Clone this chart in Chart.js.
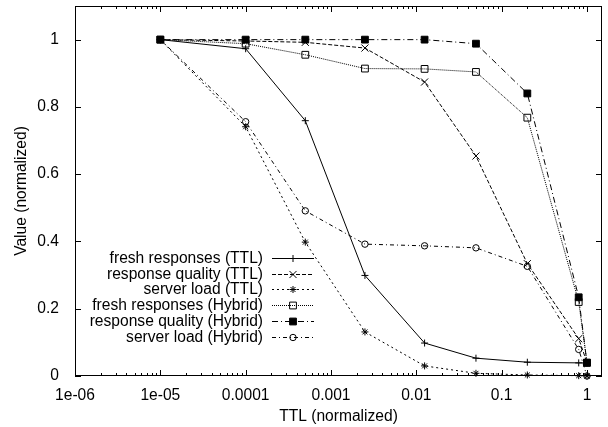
<!DOCTYPE html>
<html>
<head>
<meta charset="utf-8">
<title>TTL vs value</title>
<script src="https://cdn.jsdelivr.net/npm/chart.js@4.4.0/dist/chart.umd.min.js"></script>
<style>
  html, body { margin: 0; padding: 0; background: #fff; }
  #wrap { width: 608px; height: 427px; }
</style>
</head>
<body>
<div id="wrap"><canvas id="chart" width="608" height="427"></canvas></div>
<script>
// TTL settings (normalized) where the runs were measured
const ttlValues = [1e-5, 1e-4, 5e-4, 2.5e-3, 1.25e-2, 5e-2, 0.2, 0.8, 1];

const freshTTL      = [1.0, 0.973, 0.759, 0.299, 0.098, 0.053, 0.041, 0.039, 0.039];
const qualityTTL    = [1.0, 0.996, 0.992, 0.975, 0.874, 0.654, 0.334, 0.111, 0.040];
const loadTTL       = [1.0, 0.741, 0.398, 0.131, 0.030, 0.008, 0.003, 0.001, 0.0];
const freshHybrid   = [1.0, 0.988, 0.955, 0.914, 0.913, 0.904, 0.768, 0.220, 0.040];
const qualityHybrid = [1.0, 1.0, 1.0, 1.0, 1.0, 0.988, 0.840, 0.234, 0.039];
const loadHybrid    = [1.0, 0.756, 0.491, 0.392, 0.387, 0.381, 0.326, 0.079, 0.0];

const seriesNames = [
    'fresh responses (TTL)',
    'response quality (TTL)',
    'server load (TTL)',
    'fresh responses (Hybrid)',
    'response quality (Hybrid)',
    'server load (Hybrid)'
];

const xTickValues = [1e-6, 1e-5, 1e-4, 1e-3, 1e-2, 1e-1, 1];
const xTickLabels = ['1e-06', '1e-05', '0.0001', '0.001', '0.01', '0.1', '1'];
const yTickValues = [0, 0.2, 0.4, 0.6, 0.8, 1];
const yTickLabels = ['0', '0.2', '0.4', '0.6', '0.8', '1'];

const FONT = { family: "'Liberation Sans', Arial, sans-serif", size: 15.6 };

// line dash + marker per series (gnuplot-ish look)
const styles = [
    { dash: [],           point: 'cross',    radius: 3.5, fill: 'rgba(0,0,0,0)' },
    { dash: [4, 2],       point: 'crossRot', radius: 5,   fill: 'rgba(0,0,0,0)' },
    { dash: [2, 3],       point: 'star',     radius: 3.5, fill: 'rgba(0,0,0,0)' },
    { dash: [1, 1],       point: 'rect',     radius: 4.8, fill: 'rgba(0,0,0,0)' },
    { dash: [6, 3, 1, 3], point: 'rect',     radius: 4.8, fill: '#000' },
    { dash: [4, 3, 1, 3], point: 'circle',   radius: 3.2, fill: 'rgba(0,0,0,0)' }
];

function toPoints(values) {
    return values.map((v, i) => ({ x: ttlValues[i], y: v }));
}

const allSeries = [freshTTL, qualityTTL, loadTTL, freshHybrid, qualityHybrid, loadHybrid];

const datasets = allSeries.map((vals, i) => ({
    label: seriesNames[i],
    data: toPoints(vals),
    borderColor: '#000',
    borderWidth: 1,
    borderDash: styles[i].dash,
    pointStyle: styles[i].point,
    pointRadius: styles[i].radius,
    pointBorderColor: '#000',
    pointBackgroundColor: styles[i].fill,
    pointBorderWidth: 1,
    tension: 0,
    fill: false,
    clip: false,
    order: allSeries.length - i   // later series on top, like gnuplot
}));

// box, inward ticks (mirrored) and the key, drawn the gnuplot way
const gnuplotFrame = {
    id: 'gnuplotFrame',
    beforeDatasetsDraw(chart) {
        const { ctx, chartArea: a, scales } = chart;
        ctx.save();
        ctx.strokeStyle = '#000';
        ctx.lineWidth = 1;
        ctx.setLineDash([]);
        ctx.strokeRect(Math.round(a.left) + 0.5, Math.round(a.top) + 0.5,
            Math.round(a.right - a.left) - 1, Math.round(a.bottom - a.top) - 1);

        ctx.beginPath();
        // x ticks: major at decades, minor at 2..9
        for (let e = -6; e <= 0; e++) {
            for (let m = 1; m <= 9; m++) {
                const v = m * Math.pow(10, e);
                if (v > scales.x.max) continue;
                const px = Math.round(scales.x.getPixelForValue(v)) + 0.5;
                const len = m === 1 ? 6 : 3;
                ctx.moveTo(px, a.bottom); ctx.lineTo(px, a.bottom - len);
                ctx.moveTo(px, a.top); ctx.lineTo(px, a.top + len);
            }
        }
        yTickValues.forEach(v => {
            const py = Math.round(scales.y.getPixelForValue(v)) + 0.5;
            ctx.moveTo(a.left, py); ctx.lineTo(a.left + 6, py);
            ctx.moveTo(a.right, py); ctx.lineTo(a.right - 6, py);
        });
        ctx.stroke();
        ctx.restore();
    },
    afterDatasetsDraw(chart) {
        const { ctx } = chart;
        const textRight = 263, lineStart = 272, lineEnd = 314, markX = 293;
        const rowTop = 258, rowStep = 15.7;
        ctx.save();
        ctx.font = FONT.size + 'px ' + FONT.family;
        ctx.textAlign = 'right';
        ctx.textBaseline = 'middle';
        chart.data.datasets.forEach((ds, i) => {
            const y = Math.round(rowTop + i * rowStep) + 0.5;
            ctx.fillStyle = '#000';
            ctx.fillText(ds.label, textRight, y);
            ctx.strokeStyle = ds.borderColor;
            ctx.lineWidth = ds.borderWidth;
            ctx.setLineDash(ds.borderDash);
            ctx.beginPath();
            ctx.moveTo(lineStart, y);
            ctx.lineTo(lineEnd, y);
            ctx.stroke();
            ctx.setLineDash([]);
            ctx.fillStyle = ds.pointBackgroundColor;
            ctx.strokeStyle = ds.pointBorderColor;
            ctx.lineWidth = ds.pointBorderWidth;
            Chart.helpers.drawPoint(ctx, {
                pointStyle: ds.pointStyle,
                radius: ds.pointRadius,
                rotation: 0,
                borderWidth: ds.pointBorderWidth
            }, markX, y);
        });
        ctx.restore();
    }
};

function noEdgePadding(s) {
    s.paddingTop = 0;
    s.paddingBottom = 0;
    s.paddingLeft = 0;
    s.paddingRight = 0;
}

new Chart(document.getElementById('chart'), {
    type: 'line',
    data: { datasets: datasets },
    options: {
        responsive: false,
        animation: false,
        devicePixelRatio: 1,
        layout: { padding: { top: 5, right: 6, left: 0, bottom: 0 } },
        plugins: {
            legend: { display: false },
            tooltip: { enabled: false }
        },
        scales: {
            x: {
                type: 'logarithmic',
                min: 1e-6,
                max: 1.5,
                afterBuildTicks: s => { s.ticks = xTickValues.map(v => ({ value: v })); },
                afterFit: s => { s.height = 51; noEdgePadding(s); },
                ticks: {
                    callback: (v, i) => xTickLabels[i],
                    autoSkip: false,
                    maxRotation: 0,
                    padding: 2,
                    color: '#000',
                    font: FONT
                },
                grid: { display: false },
                border: { display: false },
                title: {
                    display: true,
                    text: 'TTL (normalized)',
                    color: '#000',
                    font: FONT,
                    padding: { top: 0, bottom: 1 }
                }
            },
            y: {
                type: 'linear',
                min: 0,
                max: 1.1,
                afterBuildTicks: s => { s.ticks = yTickValues.map(v => ({ value: v })); },
                afterFit: s => { s.width = 75; noEdgePadding(s); },
                ticks: {
                    callback: (v, i) => yTickLabels[i],
                    padding: 8,
                    color: '#000',
                    font: FONT
                },
                grid: { display: false },
                border: { display: false },
                title: {
                    display: true,
                    text: 'Value (normalized)',
                    color: '#000',
                    font: FONT,
                    padding: { top: 12, bottom: 0 }
                }
            }
        }
    },
    plugins: [gnuplotFrame]
});
</script>
</body>
</html>
